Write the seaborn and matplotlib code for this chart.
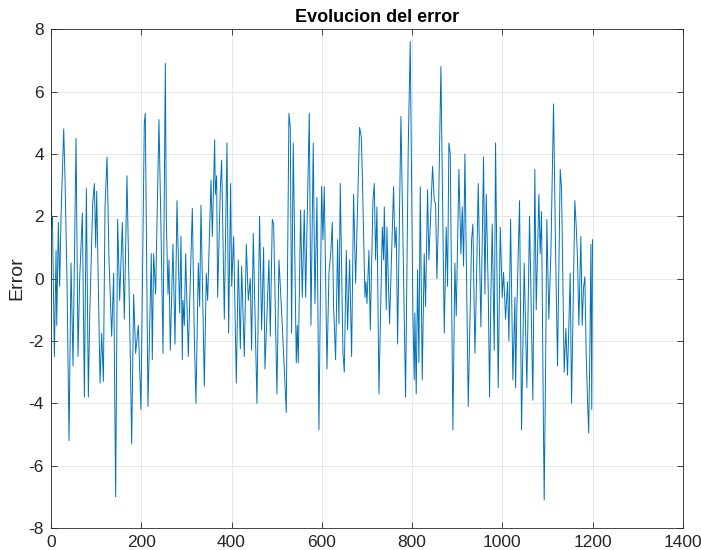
import matplotlib
matplotlib.use("Agg")
import matplotlib.pyplot as plt
import seaborn as sns

# Peaks and troughs (iteration, error)
iter_a = [0, 1.5, 3.0, 7.4, 11.1, 12.6, 16.2, 19.2, 22.2, 28.1, 31.0, 35.5, 39.9, 44.3, 48.7,
          55.4, 59.8, 63.5, 69.4, 73.9, 78.3, 82.7, 85.7, 92.3, 96.0, 99.0, 101.2, 108.6,
          112.3, 116.0, 119.6, 124.1, 128.5, 134.4, 138.8]
err_a = [3.2, 1.7, 2.0, -2.5, 0.9, -1.5, 1.8, -0.25, 2.0, 4.8, 3.2, -0.15, -5.2, 0.5, -2.8,
         4.5, -2.5, 0.0, 2.1, -3.8, 2.9, -3.8, -1.2, 2.4, 3.05, 1.0, 2.8, -3.35,
         -1.75, -3.3, 2.3, 3.9, 0.6, -1.85, 0.17]

iter_b = [143.2, 147.6, 152.1, 158.0, 162.4, 168.3, 175.7, 178.7, 183.1, 187.5, 193.4, 199.3,
          206.7, 208.9, 214.8, 222.2, 224.4, 227.4, 231.8, 239.2, 245.1, 248.1, 253.3, 255.5,
          259.2, 261.4, 264.3, 270.2, 274.7, 279.1, 285.0, 288.0, 290.9]
err_b = [-7.0, 1.9, -0.7, 1.8, -1.3, 3.3, -2.5, -5.3, -0.5, -2.4, -1.5, -4.2,
         5.0, 5.3, -4.1, 0.8, -2.6, 0.8, -0.5, 5.1, 0.4, -2.4, 6.9, 1.9,
         -0.5, 0.6, -2.3, 1.1, -2.1, 2.5, -1.1, 1.35, -2.6]

iter_c = [292.4, 295.4, 298.3, 304.2, 308.7, 313.1, 317.5, 321.2, 326.4, 329.4, 332.3, 339.7,
          344.1, 347.1, 354.5, 357.4, 362.6, 364.1, 367.0, 369.2, 375.1, 378.1, 384.0, 389.9,
          393.6, 398.0, 400.3, 404.7, 410.6, 415.0, 419.5, 422.4, 428.3, 432.8, 437.2, 441.6]
err_c = [-0.7, -1.5, 0.8, -2.5, 0.0, 2.25, -1.85, -4.0, 0.5, -0.9, 2.35, -3.45,
         0.17, -0.7, 3.15, 1.35, 4.45, 2.7, 3.3, -0.6, 2.85, 3.8, -1.3, 4.35,
         -1.75, 3.05, -0.25, 1.35, -3.35, 0.6, -2.25, 0.4, -2.5, 1.1, -0.7, 0.0]

iter_d = [444.5, 448.2, 456.3, 462.2, 466.7, 471.1, 474.1, 482.9, 485.9, 490.3, 493.3, 500.6,
          505.1, 512.5, 521.3, 527.2, 530.2, 533.1, 536.8, 543.5, 545.7, 547.9, 553.1, 556.8,
          561.2, 564.2, 572.3, 576.0, 581.1, 584.8, 589.3, 593.7]
err_d = [-2.3, 1.45, -4.0, 2.0, -1.65, 1.0, -2.9, 0.6, -1.85, 1.9, 1.75, -3.7,
         0.6, -1.5, -4.3, 5.3, 4.85, -1.75, 4.35, -2.7, -1.5, -2.7, 2.2, -0.6,
         2.2, -0.6, 5.3, -1.5, 4.35, -0.8, 2.6, -4.85]

iter_e = [599.6, 602.6, 605.5, 611.5, 615.9, 620.3, 623.3, 626.2, 630.7, 635.1, 638.0, 641.0,
          646.9, 649.9, 654.3, 657.2, 661.7, 666.1, 670.5, 675.0, 683.8, 687.5, 689.7, 695.7,
          697.9, 700.1, 704.5, 707.5, 713.4, 716.3, 719.3, 722.2, 726.7, 734.1, 737.0, 738.5, 742.9]
err_e = [2.95, 1.25, 2.95, -2.9, 0.17, 0.9, 1.8, -0.9, -2.6, 1.25, -1.45, 3.05,
         -2.4, -3.0, 0.9, -1.65, 0.6, -2.5, 2.7, -0.15, 4.85, 4.55, 3.4, -0.6,
         -0.1, -0.8, 0.9, -1.65, 2.5, 3.05, 0.6, 2.3, -3.7, 1.65, 0.6, 2.3, -1.0]

iter_f = [744.3, 750.2, 759.1, 762.1, 765.0, 768.0, 775.4, 781.3, 785.7, 791.6, 796.0, 801.9,
          804.9, 806.4, 809.3, 812.3, 815.2, 818.2, 822.6, 827.0, 830.0, 834.4, 837.4, 845.5,
          849.2, 852.2, 855.1, 858.1, 864.0, 871.4, 875.8, 878.8, 881.7, 884.7, 890.6]
err_f = [1.65, -1.45, 2.95, 1.0, 1.65, -2.1, 5.2, 0.0, -3.8, 4.2, 7.6, -1.1,
         -3.25, -1.1, -3.7, 0.28, -2.7, 2.95, -3.25, 0.8, -0.9, 2.85, 0.6, 3.6,
         2.5, 2.4, 0.0, 1.65, 6.8, -1.75, 1.65, -0.25, 4.35, 4.0, -4.85]

iter_g = [895.0, 898.0, 903.9, 908.3, 911.3, 914.2, 917.2, 924.6, 932.0, 934.9, 939.3, 942.3,
          946.7, 952.6, 958.5, 961.5, 964.5, 968.9, 971.8, 974.8, 977.7, 982.2, 985.1, 991.0,
          995.5, 999.9, 1002.9, 1007.3, 1011.7, 1014.7, 1018.4, 1023.5, 1028.0, 1029.5, 1032.4,
          1038.3, 1042.7]
err_g = [0.5, -1.2, 3.5, 0.8, 2.3, 0.4, 4.0, -4.1, 1.25, 1.75, -2.4, -0.5,
         3.05, -1.55, 3.9, -0.5, 2.7, -0.4, -3.8, -0.5, 1.75, -2.3, 4.35, -3.5,
         1.65, -0.6, 0.2, -1.3, -0.1, -2.0, 1.9, -3.25, -0.6, -3.5, -0.9,
         2.5, -4.85]

iter_h = [1048.6, 1054.5, 1060.4, 1067.8, 1072.2, 1075.2, 1081.1, 1084.0, 1087.0, 1091.4, 1092.9,
          1095.9, 1098.8, 1103.2, 1107.7, 1113.6, 1118.0, 1122.4, 1128.4, 1131.3, 1137.2, 1140.9,
          1144.6, 1150.5, 1153.5, 1160.8, 1163.8, 1166.8, 1169.7, 1174.1, 1177.1, 1180.0, 1183.0,
          1185.9, 1188.9, 1191.5, 1194.0, 1196.5, 1198.3, 1200.0]
err_h = [0.5, -3.5, 2.0, -3.9, 3.5, -1.0, 2.7, 0.8, 2.15, -5.05, -7.1,
         -3.0, 1.9, -1.3, 0.8, 5.6, 1.0, -2.8, 3.5, 2.9, -3.0, -1.6,
         -3.1, 0.17, -4.0, 2.5, 1.7, 0.6, -1.5, 1.35, -1.5, -0.3, 0.06,
         -2.4, -3.9, -4.95, -2.4, 1.1, -4.2, 1.25]

iteration = iter_a + iter_b + iter_c + iter_d + iter_e + iter_f + iter_g + iter_h
error = err_a + err_b + err_c + err_d + err_e + err_f + err_g + err_h

sns.set_theme(style="whitegrid")
plt.rcParams['font.family'] = ['Liberation Sans', 'DejaVu Sans']
plt.rcParams['axes.unicode_minus'] = False

fig = plt.figure(figsize=(7.01, 5.5), dpi=100)
ax = fig.add_axes([0.0728, 0.04, 0.9012, 0.907])

sns.lineplot(x=iteration, y=error, ax=ax, color="#0072BD", linewidth=0.7, sort=False)

ax.set_xlim(0, 1400)
ax.set_ylim(-8, 8)
ax.set_xticks(range(0, 1401, 200))
ax.set_yticks(range(-8, 9, 2))
ax.grid(True, color="#e3e3e3", linewidth=0.6)
ax.set_facecolor("white")
for s in ax.spines.values():
    s.set_visible(True)
    s.set_color("#262626")
    s.set_linewidth(0.6)
ax.tick_params(direction="in", length=4, width=0.6, color="#262626", labelsize=12.5,
               labelcolor="#262626", top=True, right=True, bottom=True, left=True, pad=5)

ax.set_title("Evolucion del error", fontsize=13, fontweight="bold", color="black",
             x=0.516, pad=5)
ax.set_ylabel("Error", fontsize=14, color="#262626")
ax.yaxis.set_label_coords(-0.04, 0.5)

fig.savefig("out.png", dpi=100)
